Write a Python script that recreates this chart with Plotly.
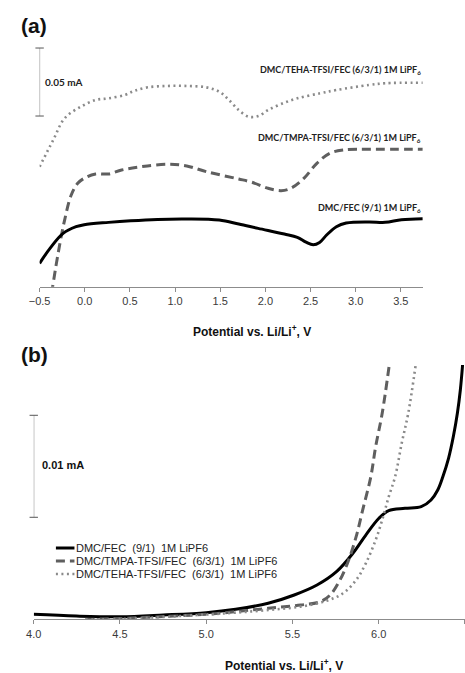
import plotly.graph_objects as go

# ---------------- Panel (a) data: potential (V) vs current (mA, offset traces) ----------------
a_fec_x = [-0.5, -0.385, -0.24, -0.096, -0.006, 0.264, 0.509, 0.805, 1.129, 1.489, 1.705, 1.92,
           2.21, 2.354, 2.45, 2.53, 2.6, 2.678, 2.786, 2.895, 3.147, 3.327, 3.507, 3.741]
a_fec_y = [0.0172, 0.0282, 0.0392, 0.0441, 0.0456, 0.0473, 0.0485, 0.0495, 0.0498, 0.0490, 0.0461, 0.0429,
           0.0387, 0.0363, 0.0327, 0.0308, 0.0325, 0.0380, 0.0441, 0.0468, 0.0476, 0.0473, 0.0493, 0.0500]

a_tmpa_x = [-0.37, -0.356, -0.295, -0.223, -0.15, -0.078, 0.012, 0.12, 0.264, 0.408, 0.624, 0.913, 1.129,
            1.345, 1.705, 1.85, 2.03, 2.174, 2.282, 2.426, 2.57, 2.714, 2.859, 3.147, 3.741]
a_tmpa_y = [-0.005, 0.0, 0.0245, 0.049, 0.0674, 0.0760, 0.0804, 0.0829, 0.0829, 0.0858, 0.0882, 0.0900, 0.0888,
            0.0846, 0.0792, 0.0768, 0.0724, 0.0706, 0.0724, 0.0797, 0.0907, 0.0981, 0.1005, 0.1010, 0.1010]

a_teha_x = [-0.5, -0.349, -0.223, -0.042, 0.12, 0.264, 0.444, 0.552, 0.696, 0.913, 1.129, 1.345, 1.489,
            1.597, 1.705, 1.814, 1.922, 2.03, 2.174, 2.354, 2.606, 2.786, 3.147, 3.327, 3.741]
a_teha_y = [0.0882, 0.1079, 0.1238, 0.1324, 0.1373, 0.1385, 0.1410, 0.1441, 0.1466, 0.1476, 0.1476, 0.1466, 0.1434,
            0.1373, 0.1299, 0.1250, 0.1255, 0.1299, 0.1343, 0.1385, 0.1422, 0.1446, 0.1483, 0.1496, 0.1500]

a_ticks = [-0.5, 0.0, 0.5, 1.0, 1.5, 2.0, 2.5, 3.0, 3.5]
a_scale_bar = [0.1255, 0.1755]   # 0.05 mA
a_label_y = [0.1595, 0.1094, 0.0579]   # TEHA, TMPA, FEC label heights (mA)

# ---------------- Panel (b) data ----------------
b_fec_x = [4.0, 4.247, 4.5, 4.751, 5.0, 5.170, 5.359, 5.510, 5.642, 5.755, 5.850, 5.925, 6.001, 6.058,
           6.152, 6.246, 6.303, 6.342, 6.371, 6.405, 6.433, 6.456, 6.473, 6.486]
b_fec_y = [0.00049, 0.00032, 0.00025, 0.00042, 0.00065, 0.00098, 0.00157, 0.00238, 0.00336, 0.00467,
           0.00647, 0.00826, 0.00990, 0.01065, 0.01088, 0.01104, 0.01170, 0.01268, 0.01395, 0.01581,
           0.01797, 0.02023, 0.02248, 0.02493]

b_tmpa_x = [4.3, 4.5, 4.751, 5.0, 5.170, 5.359, 5.548, 5.661, 5.718, 5.775, 5.822, 5.869, 5.907, 5.954,
            5.982, 6.020, 6.061]
b_tmpa_y = [0.0, 0.00008, 0.00027, 0.00049, 0.00075, 0.00108, 0.00140, 0.00173, 0.00238, 0.00385,
            0.00565, 0.00810, 0.01072, 0.01398, 0.01692, 0.02020, 0.02493]

b_teha_x = [4.3, 4.5, 5.0, 5.170, 5.359, 5.548, 5.699, 5.793, 5.869, 5.925, 5.982, 6.020, 6.058, 6.095,
            6.133, 6.171, 6.214]
b_teha_y = [0.0, 0.00003, 0.00047, 0.00065, 0.00091, 0.00124, 0.00182, 0.00255, 0.00385, 0.00549,
            0.00777, 0.00974, 0.01202, 0.01398, 0.01725, 0.02020, 0.02493]

b_ticks = [4.0, 4.5, 5.0, 5.5, 6.0, 6.5]
b_scale_bar = [0.01, 0.02]       # 0.01 mA

names = ["DMC/FEC  (9/1)  1M LiPF6",
         "DMC/TMPA-TFSI/FEC  (6/3/1)  1M LiPF6",
         "DMC/TEHA-TFSI/FEC  (6/3/1)  1M LiPF6"]
a_labels = ["DMC/TEHA-TFSI/FEC (6/3/1) 1M LiPF<sub>6</sub>",
            "DMC/TMPA-TFSI/FEC (6/3/1) 1M LiPF<sub>6</sub>",
            "DMC/FEC (9/1) 1M LiPF<sub>6</sub>"]

BLACK = "#000000"
DGRAY = "#5f5f5f"
LGRAY = "#8a8a8a"
AXC = "#8c8c8c"
DASH = "9px,5px"
DOT = "2px,3.5px"

styles = [dict(color=BLACK, width=3), dict(color=DGRAY, width=3, dash=DASH), dict(color=LGRAY, width=2.6, dash=DOT)]

fig = go.Figure()

# Panel (a)
fig.add_trace(go.Scatter(x=a_teha_x, y=a_teha_y, mode="lines", line=dict(**styles[2], shape="spline"),
                         xaxis="x", yaxis="y", showlegend=False))
fig.add_trace(go.Scatter(x=a_tmpa_x, y=a_tmpa_y, mode="lines", line=dict(**styles[1], shape="spline"),
                         xaxis="x", yaxis="y", showlegend=False))
fig.add_trace(go.Scatter(x=a_fec_x, y=a_fec_y, mode="lines", line=dict(**styles[0], shape="spline"),
                         xaxis="x", yaxis="y", showlegend=False))
fig.add_trace(go.Scatter(x=[a_ticks[0], a_ticks[0]], y=a_scale_bar, mode="lines+markers",
                         line=dict(color="#7a7a7a", width=1), marker=dict(symbol="line-ew", size=6, line=dict(color="#555", width=1)),
                         xaxis="x", yaxis="y", showlegend=False, cliponaxis=False))

# Panel (b)
for xs, ys, nm, st in [(b_fec_x, b_fec_y, names[0], styles[0]),
                       (b_tmpa_x, b_tmpa_y, names[1], styles[1]),
                       (b_teha_x, b_teha_y, names[2], styles[2])]:
    fig.add_trace(go.Scatter(x=xs, y=ys, mode="lines", name=nm, line=dict(**st, shape="spline"),
                             xaxis="x2", yaxis="y2", showlegend=False))
fig.add_trace(go.Scatter(x=[b_ticks[0], b_ticks[0]], y=b_scale_bar, mode="lines+markers",
                         line=dict(color="#7a7a7a", width=1), marker=dict(symbol="line-ew", size=6, line=dict(color="#555", width=1)),
                         xaxis="x2", yaxis="y2", showlegend=False, cliponaxis=False))

axis_common = dict(showgrid=False, zeroline=False, showline=True, linecolor=AXC, linewidth=1,
                   ticks="outside", ticklen=4, tickcolor=AXC, tickformat=".1f",
                   tickfont=dict(family="Liberation Sans, Arial", size=11, color="#3a3a3a"))

W, H = 465, 673
fig.update_layout(
    width=W, height=H, margin=dict(l=0, r=0, t=0, b=0),
    paper_bgcolor="white", plot_bgcolor="white", showlegend=False,
    xaxis=dict(domain=[29.3 / W, 422.4 / W], range=[-0.5, 3.75], tickvals=a_ticks, anchor="y", **axis_common),
    yaxis=dict(domain=[1 - 286.7 / H, 1 - 40 / H], range=[0, 0.1814], visible=False, anchor="x"),
    xaxis2=dict(domain=[23.3 / W, 1.0], range=[4.0, 6.5], tickvals=b_ticks, anchor="y2", **axis_common),
    yaxis2=dict(domain=[1 - 619.3 / H, 1 - 365 / H], range=[0, 0.02493], visible=False, anchor="x2"),
)

lab_font = dict(family="Lato, Open Sans", size=9, color="#222")
ann = [
    dict(text="<b>(a)</b>", x=8 / W, y=1 - 26 / H, xref="paper", yref="paper", xanchor="left", yanchor="middle",
         showarrow=False, font=dict(family="Liberation Sans, Arial", size=21, color="#111")),
    dict(text="<b>(b)</b>", x=8 / W, y=1 - 354 / H, xref="paper", yref="paper", xanchor="left", yanchor="middle",
         showarrow=False, font=dict(family="Liberation Sans, Arial", size=21, color="#111")),
    dict(text="<b>Potential vs. Li/Li<sup>+</sup>, V</b>", x=247 / W, y=1 - 331 / H, xref="paper", yref="paper",
         xanchor="center", yanchor="middle", showarrow=False, font=dict(family="Liberation Sans, Arial", size=12, color="#111")),
    dict(text="<b>Potential vs. Li/Li<sup>+</sup>, V</b>", x=280 / W, y=1 - 665 / H, xref="paper", yref="paper",
         xanchor="center", yanchor="middle", showarrow=False, font=dict(family="Liberation Sans, Arial", size=12, color="#111")),
    dict(text="<b>0.05 mA</b>", x=a_ticks[0], y=sum(a_scale_bar) / 2, xref="x", yref="y", xanchor="left", yanchor="middle",
         xshift=3, showarrow=False, font=dict(family="Lato, Open Sans", size=10, color="#222")),
    dict(text="<b>0.01 mA</b>", x=b_ticks[0], y=0.0151, xref="x2", yref="y2", xanchor="left", yanchor="middle",
         xshift=6, showarrow=False, font=dict(family="Liberation Sans, Arial", size=11, color="#111")),
]
for lab, ly in zip(a_labels, a_label_y):
    ann.append(dict(text="<b>" + lab + "</b>", x=3.75, y=ly, xref="x", yref="y",
                    xanchor="right", yanchor="middle", showarrow=False, font=lab_font))

# manual compact legend for panel (b)
leg_rows = [548.0, 561.0, 574.0]
shapes = []
for nm, st, ry in zip(names, styles, leg_rows):
    ann.append(dict(text=nm, x=66 / W, y=1 - ry / H, xref="paper", yref="paper", xanchor="left", yanchor="middle",
                    showarrow=False, borderpad=0, font=dict(family="Liberation Sans, Arial", size=11, color="#222")))
    shapes.append(dict(type="line", xref="paper", yref="paper", x0=46 / W, x1=65 / W, y0=1 - ry / H, y1=1 - ry / H,
                       line=dict(color=st["color"], width=st["width"], dash=st.get("dash", "solid"))))

fig.update_layout(annotations=ann, shapes=shapes)

fig.write_html("out.html")
